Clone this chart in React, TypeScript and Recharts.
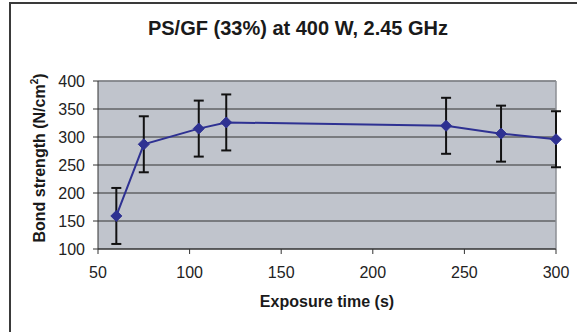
import {
  ComposedChart,
  Line,
  XAxis,
  YAxis,
  CartesianGrid,
  ErrorBar,
  ReferenceLine,
} from 'recharts';

const exposureTimes = [60, 75, 105, 120, 240, 270, 300];
const bondStrength = [159, 287, 315, 326, 320, 306, 296];
const errorMargin = [50, 50, 50, 50, 50, 50, 50];
const xTicks = [50, 100, 150, 200, 250, 300];
const yTicks = [100, 150, 200, 250, 300, 350, 400];

const data = exposureTimes.map((t, i) => ({
  t,
  strength: bondStrength[i],
  err: errorMargin[i],
}));

const FONT = '"Liberation Sans", Arial, Helvetica, sans-serif';
const BLUE = '#2e3192';

const Diamond = (props: any) => {
  const { cx, cy } = props;
  if (cx == null || cy == null) return null;
  const r = 5.5;
  return (
    <polygon
      points={`${cx},${cy - r} ${cx + r},${cy} ${cx},${cy + r} ${cx - r},${cy}`}
      fill={BLUE}
      stroke={BLUE}
    />
  );
};

export default function App() {
  return (
    <div
      style={{
        position: 'absolute',
        left: 0,
        top: 0,
        width: 577,
        height: 332,
        overflow: 'hidden',
        background: '#fff',
        fontFamily: FONT,
      }}
    >
      {/* outer frame, its right and bottom edges fall outside the picture */}
      <div
        style={{
          position: 'absolute',
          left: 9,
          top: 2,
          width: 600,
          height: 400,
          border: '2px solid #3a3a3a',
        }}
      />
      <ComposedChart
        width={577}
        height={332}
        data={data}
        margin={{ top: 81, right: 21, bottom: 0, left: 0 }}
        style={{ position: 'absolute', left: 0, top: 0 }}
      >
        <CartesianGrid vertical={false} stroke="#333" fill="#c0c4cc" fillOpacity={1} />
        <XAxis
          type="number"
          dataKey="t"
          domain={[50, 300]}
          ticks={xTicks}
          height={83}
          tickSize={5}
          tickMargin={13}
          axisLine={{ stroke: '#333' }}
          tickLine={{ stroke: '#333' }}
          tick={{ fill: '#222', fontSize: 16, fontFamily: FONT }}
        />
        <YAxis
          type="number"
          domain={[100, 400]}
          ticks={yTicks}
          width={98}
          tickSize={5}
          tickMargin={8}
          axisLine={{ stroke: '#333' }}
          tickLine={{ stroke: '#333' }}
          tick={{ fill: '#222', fontSize: 16, fontFamily: FONT }}
        />
        <ReferenceLine y={400} stroke="#8c8f94" strokeWidth={1.5} />
        <ReferenceLine x={300} stroke="#8c8f94" strokeWidth={1.5} />
        <Line
          type="linear"
          dataKey="strength"
          stroke={BLUE}
          strokeWidth={2}
          dot={<Diamond />}
          activeDot={false}
          isAnimationActive={false}
        >
          <ErrorBar dataKey="err" direction="y" width={5} stroke="#111" strokeWidth={2} />
        </Line>
      </ComposedChart>
      <svg
        width={577}
        height={332}
        style={{ position: 'absolute', left: 0, top: 0, pointerEvents: 'none' }}
      >
        <text
          x={298}
          y={35}
          textAnchor="middle"
          fontFamily={FONT}
          fontWeight="bold"
          fontSize={20}
          fill="#1a1a1a"
        >
          PS/GF (33%) at 400 W, 2.45 GHz
        </text>
        <text
          x={327}
          y={307}
          textAnchor="middle"
          fontFamily={FONT}
          fontWeight="bold"
          fontSize={16}
          fill="#1a1a1a"
        >
          Exposure time (s)
        </text>
        <text
          x={45}
          y={158}
          textAnchor="middle"
          transform="rotate(-90, 45, 158)"
          fontFamily={FONT}
          fontWeight="bold"
          fontSize={16}
          fill="#1a1a1a"
        >
          Bond strength (N/cm
          <tspan fontSize={10} dy={-7}>
            2
          </tspan>
          <tspan dy={7}>)</tspan>
        </text>
      </svg>
    </div>
  );
}
